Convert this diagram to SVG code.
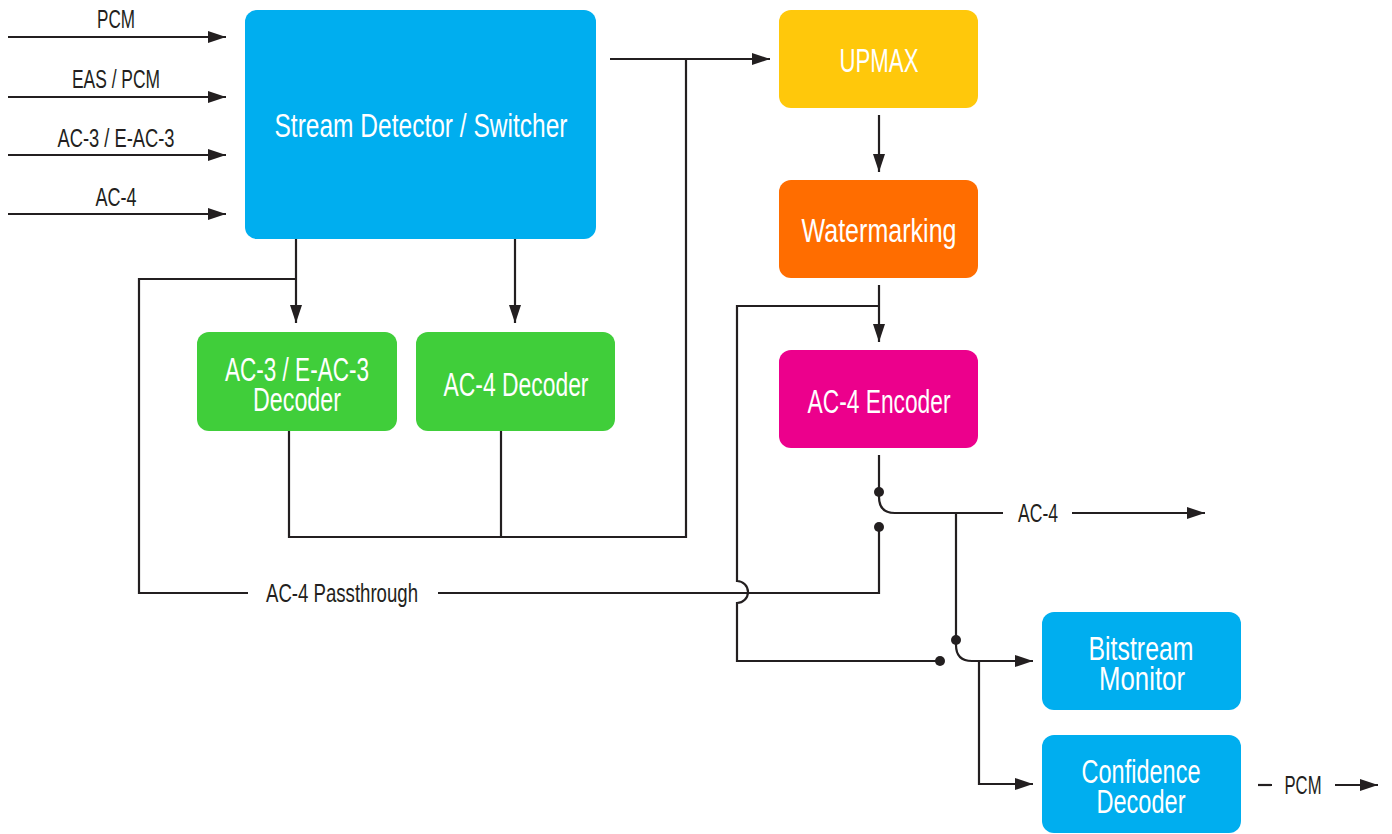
<svg xmlns="http://www.w3.org/2000/svg" width="1392" height="834" viewBox="0 0 1392 834">
<style>
.lbl{font-family:"Liberation Sans",Arial,sans-serif;font-size:25px;fill:#231F20;text-anchor:middle}
.bt{font-family:"Liberation Sans",Arial,sans-serif;font-size:33px;fill:#FFFFFF;text-anchor:middle}
.ln{fill:none;stroke:#231F20;stroke-width:2.2}
.dot{fill:#231F20}
</style>
<defs>
<marker id="ah" viewBox="0 0 18 12" refX="18" refY="6" markerWidth="18" markerHeight="12" markerUnits="userSpaceOnUse" orient="auto">
<path d="M0,0 L18,6 L0,12 Z" fill="#231F20"/>
</marker>
</defs>
<rect width="1392" height="834" fill="#FFFFFF"/>
<g id="connectors">
<line class="ln" x1="8" y1="37" x2="226" y2="37" marker-end="url(#ah)"/>
<line class="ln" x1="8" y1="97" x2="226" y2="97" marker-end="url(#ah)"/>
<line class="ln" x1="8" y1="155" x2="226" y2="155" marker-end="url(#ah)"/>
<line class="ln" x1="8" y1="214" x2="226" y2="214" marker-end="url(#ah)"/>
<text class="lbl" x="116" y="28" textLength="38" lengthAdjust="spacingAndGlyphs">PCM</text>
<text class="lbl" x="116" y="88" textLength="88" lengthAdjust="spacingAndGlyphs">EAS / PCM</text>
<text class="lbl" x="116" y="147" textLength="117" lengthAdjust="spacingAndGlyphs">AC-3 / E-AC-3</text>
<text class="lbl" x="116" y="206" textLength="41" lengthAdjust="spacingAndGlyphs">AC-4</text>
<line class="ln" x1="610" y1="59" x2="770" y2="59" marker-end="url(#ah)"/>
<polyline class="ln" points="686,59 686,537 289,537 289,431"/>
<line class="ln" x1="501" y1="431" x2="501" y2="537"/>
<line class="ln" x1="296" y1="239" x2="296" y2="323" marker-end="url(#ah)"/>
<line class="ln" x1="515" y1="239" x2="515" y2="323" marker-end="url(#ah)"/>
<polyline class="ln" points="296,279 139,279 139,593 248,593"/>
<polyline class="ln" points="438,593 879,593 879,531"/>
<circle class="dot" cx="879" cy="527" r="5"/>
<text class="lbl" x="342" y="602" textLength="152" lengthAdjust="spacingAndGlyphs">AC-4 Passthrough</text>
<line class="ln" x1="879" y1="115" x2="879" y2="172" marker-end="url(#ah)"/>
<line class="ln" x1="879" y1="285" x2="879" y2="342" marker-end="url(#ah)"/>
<path class="ln" d="M879,306 L737,306 L737,581 A11,11 0 0 1 737,603 L737,661 L940,661"/>
<circle class="dot" cx="940" cy="661" r="5"/>
<path class="ln" d="M879,455 L879,497 Q879,513 895,513 L1003,513"/>
<circle class="dot" cx="879" cy="492" r="5"/>
<line class="ln" x1="1072" y1="513" x2="1205" y2="513" marker-end="url(#ah)"/>
<text class="lbl" x="1038" y="522" textLength="40" lengthAdjust="spacingAndGlyphs">AC-4</text>
<path class="ln" d="M956,513 L956,645 Q956,661 972,661 L1033,661" marker-end="url(#ah)"/>
<circle class="dot" cx="956" cy="640" r="5"/>
<polyline class="ln" points="979,661 979,784 1033,784" marker-end="url(#ah)"/>
<line class="ln" x1="1258" y1="785" x2="1272" y2="785"/>
<line class="ln" x1="1335" y1="785" x2="1378" y2="785" marker-end="url(#ah)"/>
<text class="lbl" x="1303" y="794" textLength="37" lengthAdjust="spacingAndGlyphs">PCM</text>
</g>
<g id="switcher">
<rect x="245" y="10" width="351" height="229" rx="12" fill="#00AEEF"/>
<text class="bt" x="421" y="137" textLength="293" lengthAdjust="spacingAndGlyphs">Stream Detector / Switcher</text>
</g>
<g id="upmax">
<rect x="779" y="10" width="199" height="98" rx="12" fill="#FFC80B"/>
<text class="bt" x="879" y="72" textLength="79" lengthAdjust="spacingAndGlyphs">UPMAX</text>
</g>
<g id="watermarking">
<rect x="779" y="180" width="199" height="98" rx="12" fill="#FF6D00"/>
<text class="bt" x="879" y="242" textLength="155" lengthAdjust="spacingAndGlyphs">Watermarking</text>
</g>
<g id="ac4encoder">
<rect x="779" y="350" width="199" height="98" rx="12" fill="#EC008C"/>
<text class="bt" x="879" y="413" textLength="143" lengthAdjust="spacingAndGlyphs">AC-4 Encoder</text>
</g>
<g id="ac3decoder">
<rect x="197" y="332" width="200" height="99" rx="12" fill="#40CE3A"/>
<text class="bt" x="297" y="381" textLength="144" lengthAdjust="spacingAndGlyphs">AC-3 / E-AC-3</text>
<text class="bt" x="297" y="411" textLength="88" lengthAdjust="spacingAndGlyphs">Decoder</text>
</g>
<g id="ac4decoder">
<rect x="416" y="332" width="199" height="99" rx="12" fill="#40CE3A"/>
<text class="bt" x="516" y="396" textLength="145" lengthAdjust="spacingAndGlyphs">AC-4 Decoder</text>
</g>
<g id="bitstreammonitor">
<rect x="1042" y="612" width="199" height="98" rx="12" fill="#00AEEF"/>
<text class="bt" x="1141" y="660" textLength="105" lengthAdjust="spacingAndGlyphs">Bitstream</text>
<text class="bt" x="1142" y="690" textLength="86" lengthAdjust="spacingAndGlyphs">Monitor</text>
</g>
<g id="confidencedecoder">
<rect x="1042" y="735" width="199" height="98" rx="12" fill="#00AEEF"/>
<text class="bt" x="1141" y="783" textLength="119" lengthAdjust="spacingAndGlyphs">Confidence</text>
<text class="bt" x="1141" y="813" textLength="89" lengthAdjust="spacingAndGlyphs">Decoder</text>
</g>
</svg>
